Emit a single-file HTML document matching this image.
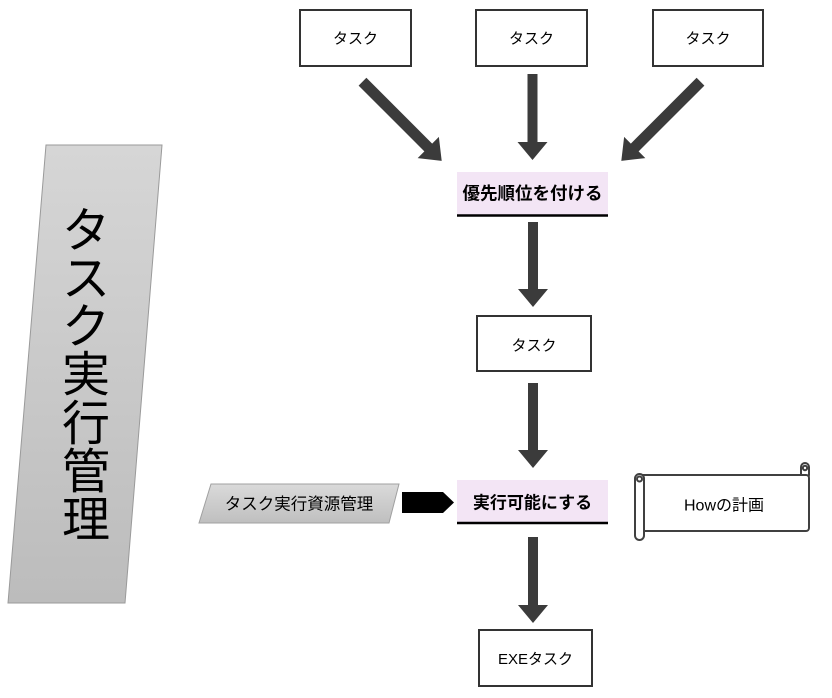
<!DOCTYPE html>
<html>
<head>
<meta charset="utf-8">
<style>
html,body{margin:0;padding:0;background:#fff;}
svg{display:block;}
text{font-family:"Liberation Sans","Noto Sans CJK JP",sans-serif;fill:#000;}
</style>
</head>
<body>
<svg width="832" height="698" viewBox="0 0 832 698" xmlns="http://www.w3.org/2000/svg">
  <defs>
    <linearGradient id="gBig" x1="0" y1="0" x2="0" y2="1">
      <stop offset="0" stop-color="#d6d6d6"/>
      <stop offset="1" stop-color="#bcbcbc"/>
    </linearGradient>
    <linearGradient id="gSmall" x1="0" y1="0" x2="0" y2="1">
      <stop offset="0" stop-color="#dadada"/>
      <stop offset="1" stop-color="#bfbfbf"/>
    </linearGradient>
  </defs>

  <!-- Big left parallelogram -->
  <polygon points="46,145 162,145 125,603 8,603" fill="url(#gBig)" stroke="#9a9a9a" stroke-width="1"/>
  <g font-size="48" text-anchor="middle">
    <text x="86" y="247">タ</text>
    <text x="86" y="295">ス</text>
    <text x="86" y="343">ク</text>
    <text x="86" y="391">実</text>
    <text x="86" y="440">行</text>
    <text x="86" y="488">管</text>
    <text x="86" y="536">理</text>
  </g>

  <!-- Top task boxes -->
  <rect x="300" y="10" width="111" height="56" fill="#fff" stroke="#333" stroke-width="2"/>
  <rect x="476" y="10" width="111" height="56" fill="#fff" stroke="#333" stroke-width="2"/>
  <rect x="653" y="10" width="110" height="56" fill="#fff" stroke="#333" stroke-width="2"/>
  <g font-size="15" text-anchor="middle">
    <text x="355.5" y="43.5">タスク</text>
    <text x="531.5" y="43.5">タスク</text>
    <text x="708" y="43.5">タスク</text>
  </g>

  <!-- Arrows -->
  <g fill="#3b3b3b">
    <!-- left diagonal -->
    <polygon transform="translate(362.5,81.7) rotate(-45)" points="-5.5,0 5.5,0 5.5,93 15,93 0,112 -15,93 -5.5,93"/>
    <!-- right diagonal -->
    <polygon transform="translate(700.5,81.7) rotate(45)" points="-5.5,0 5.5,0 5.5,93 15,93 0,112 -15,93 -5.5,93"/>
    <!-- vertical 1 -->
    <polygon transform="translate(532.5,74)" points="-5,0 5,0 5,68 15,68 0,86 -15,68 -5,68"/>
    <!-- vertical 2 -->
    <polygon transform="translate(533,222)" points="-5,0 5,0 5,67 15,67 0,85 -15,67 -5,67"/>
    <!-- vertical 3 -->
    <polygon transform="translate(533,383)" points="-5,0 5,0 5,67 15,67 0,85 -15,67 -5,67"/>
    <!-- vertical 4 -->
    <polygon transform="translate(533,537)" points="-5,0 5,0 5,68 15,68 0,86 -15,68 -5,68"/>
  </g>

  <!-- Priority box -->
  <rect x="457" y="172" width="151" height="43" fill="#f3e5f5"/>
  <line x1="457" y1="215.5" x2="608" y2="215.5" stroke="#000" stroke-width="2.5"/>
  <text x="532.5" y="199.5" font-size="17.5" font-weight="bold" text-anchor="middle">優先順位を付ける</text>

  <!-- Middle task box -->
  <rect x="477" y="316" width="114" height="55" fill="#fff" stroke="#333" stroke-width="2"/>
  <text x="534" y="350.5" font-size="15" text-anchor="middle">タスク</text>

  <!-- Resource parallelogram -->
  <polygon points="211,484 399,484 389,523 199,523" fill="url(#gSmall)" stroke="#a0a0a0" stroke-width="1"/>
  <text x="299" y="509.5" font-size="16.5" text-anchor="middle">タスク実行資源管理</text>

  <!-- Black block arrow -->
  <polygon points="402,492 443,492 454,502.5 443,513 402,513" fill="#000"/>

  <!-- Executable box -->
  <rect x="457" y="480" width="151" height="42" fill="#f3e5f5"/>
  <line x1="457" y1="523" x2="608" y2="523" stroke="#000" stroke-width="2.5"/>
  <text x="532.5" y="508.5" font-size="17" font-weight="bold" text-anchor="middle">実行可能にする</text>

  <!-- Scroll -->
  <g stroke="#404040" stroke-width="2" fill="#fff">
    <rect x="801" y="463" width="8" height="16" rx="4"/>
    <rect x="640" y="475" width="169" height="56" rx="3"/>
    <rect x="635" y="474" width="9" height="66" rx="4.5"/>
    <circle cx="639.5" cy="479" r="2.5"/>
    <circle cx="805" cy="468" r="2.2"/>
  </g>
  <text x="724" y="510.5" font-size="16" text-anchor="middle">Howの計画</text>

  <!-- EXE task box -->
  <rect x="479" y="630" width="113" height="56" fill="#fff" stroke="#333" stroke-width="2"/>
  <text x="535.5" y="664" font-size="15" text-anchor="middle">EXEタスク</text>
</svg>
</body>
</html>
